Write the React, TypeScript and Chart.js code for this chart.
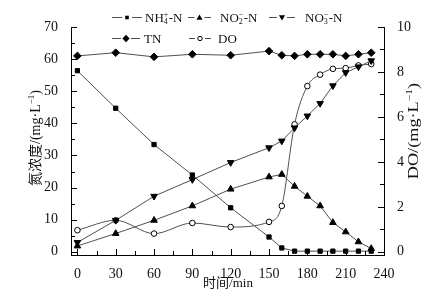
import React, { useEffect, useRef } from 'react';
import { Chart, registerables } from 'chart.js';

Chart.register(...registerables);

// ---- data ----
const TIME = [0, 30, 60, 90, 120, 150, 160, 170, 180, 190, 200, 210, 220, 230];
const NH4 = [56.4, 44.7, 33.4, 23.9, 13.7, 4.6, 1.2, 0.2, 0.2, 0.2, 0.2, 0.2, 0.2, 0.2];
const NO2 = [1.8, 5.7, 9.8, 14.3, 19.5, 23.3, 24.1, 20.4, 17.3, 14.3, 9.1, 6.2, 3.1, 1.0];
const NO3 = [2.9, 9.8, 17.3, 22.5, 27.8, 32.4, 34.5, 38.6, 42.3, 46.2, 51.7, 55.8, 57.6, 59.5];
const TN = [61.0, 62.0, 60.7, 61.5, 61.2, 62.5, 61.2, 61.0, 61.5, 61.5, 61.5, 61.0, 61.5, 62.0];
const DO = [0.96, 1.4, 0.81, 1.28, 1.1, 1.33, 2.04, 5.67, 7.37, 7.88, 8.14, 8.17, 8.29, 8.35];

const X_TICKS = [0, 30, 60, 90, 120, 150, 180, 210, 240];
const N_TICKS = [0, 10, 20, 30, 40, 50, 60, 70];
const DO_TICKS = [0, 2, 4, 6, 8, 10];

const SERIF = '"Liberation Serif", "Times New Roman", serif';
const MIXED = '"Liberation Serif", "Noto Sans CJK SC", serif';
const LINE = '#505050';
const INK = '#111111';

type Kind = 'square' | 'up' | 'down' | 'diamond' | 'circle';

function drawMarker(ctx: CanvasRenderingContext2D, kind: Kind, x: number, y: number, s: number) {
  ctx.save();
  ctx.fillStyle = '#000';
  ctx.strokeStyle = '#000';
  ctx.lineWidth = 1;
  ctx.beginPath();
  if (kind === 'square') {
    ctx.rect(x - s, y - s, 2 * s, 2 * s);
    ctx.fill();
  } else if (kind === 'up') {
    ctx.moveTo(x, y - s * 1.1);
    ctx.lineTo(x + s * 1.1, y + s * 0.8);
    ctx.lineTo(x - s * 1.1, y + s * 0.8);
    ctx.closePath();
    ctx.fill();
  } else if (kind === 'down') {
    ctx.moveTo(x, y + s * 1.1);
    ctx.lineTo(x + s * 1.1, y - s * 0.8);
    ctx.lineTo(x - s * 1.1, y - s * 0.8);
    ctx.closePath();
    ctx.fill();
  } else if (kind === 'diamond') {
    ctx.moveTo(x, y - s * 1.3);
    ctx.lineTo(x + s * 1.3, y);
    ctx.lineTo(x, y + s * 1.3);
    ctx.lineTo(x - s * 1.3, y);
    ctx.closePath();
    ctx.fill();
  } else {
    ctx.arc(x, y, s, 0, Math.PI * 2);
    ctx.fillStyle = '#fff';
    ctx.fill();
    ctx.stroke();
  }
  ctx.restore();
}

function drawRich(ctx: CanvasRenderingContext2D, x: number, y: number, parts: any[], size: number) {
  let cx = x;
  ctx.textBaseline = 'alphabetic';
  ctx.textAlign = 'left';
  for (const p of parts) {
    if (p.t !== undefined) {
      ctx.font = `${size}px ${MIXED}`;
      ctx.fillText(p.t, cx, y);
      cx += ctx.measureText(p.t).width;
    } else if (p.sup !== undefined && p.sub !== undefined) {
      ctx.font = `${Math.round(size * 0.62)}px ${SERIF}`;
      const w1 = ctx.measureText(p.sup).width;
      const w2 = ctx.measureText(p.sub).width;
      ctx.fillText(p.sup, cx, y - size * 0.42);
      ctx.fillText(p.sub, cx, y + size * 0.18);
      cx += Math.max(w1, w2) + 0.5;
    } else if (p.sup !== undefined) {
      ctx.font = `${Math.round(size * 0.62)}px ${SERIF}`;
      ctx.fillText(p.sup, cx, y - size * 0.4);
      cx += ctx.measureText(p.sup).width;
    }
  }
  return cx - x;
}

function measureRich(ctx: CanvasRenderingContext2D, parts: any[], size: number) {
  let w = 0;
  for (const p of parts) {
    if (p.t !== undefined) {
      ctx.font = `${size}px ${MIXED}`;
      w += ctx.measureText(p.t).width;
    } else if (p.sup !== undefined && p.sub !== undefined) {
      ctx.font = `${Math.round(size * 0.62)}px ${SERIF}`;
      w += Math.max(ctx.measureText(p.sup).width, ctx.measureText(p.sub).width) + 0.5;
    } else if (p.sup !== undefined) {
      ctx.font = `${Math.round(size * 0.62)}px ${SERIF}`;
      w += ctx.measureText(p.sup).width;
    }
  }
  return w;
}

const LEGEND = [
  { kind: 'square' as Kind, s: 1.8, x0: 112, x1: 142, tx: 145, y: 17, parts: [{ t: 'NH' }, { sup: '+', sub: '4' }, { t: '-N' }] },
  { kind: 'up' as Kind, s: 2.8, x0: 188, x1: 211, tx: 220, y: 17, parts: [{ t: 'NO' }, { sup: '−', sub: '2' }, { t: '-N' }] },
  { kind: 'down' as Kind, s: 2.8, x0: 269, x1: 295, tx: 305, y: 17, parts: [{ t: 'NO' }, { sup: '−', sub: '3' }, { t: '-N' }] },
  { kind: 'diamond' as Kind, s: 2.8, x0: 112, x1: 140, tx: 144, y: 38, parts: [{ t: 'TN' }] },
  { kind: 'circle' as Kind, s: 2.2, x0: 189, x1: 211, tx: 218, y: 38, parts: [{ t: 'DO' }] },
];

const customDraw = {
  id: 'customDraw',
  afterDraw(chart: any) {
    const ctx: CanvasRenderingContext2D = chart.ctx;
    const xs = chart.scales.x;
    const yl = chart.scales.y;
    const yr = chart.scales.y1;
    const L = Math.round(yl.right);
    const R = Math.round(yr.left);
    const B = Math.round(xs.top);
    ctx.save();
    ctx.fillStyle = '#000000';
    // inward minor/major ticks
    for (let v = 0; v <= 240; v += 15) {
      const px = Math.round(xs.getPixelForValue(v));
      const len = v % 30 === 0 ? 6 : 4;
      ctx.fillRect(px, B - len, 1, len);
    }
    for (let v = 0; v <= 70; v += 5) {
      const py = Math.round(yl.getPixelForValue(v));
      const len = v % 10 === 0 ? 6 : 4;
      ctx.fillRect(L, py, len, 1);
    }
    for (let v = 0; v <= 10; v += 1) {
      const py = Math.round(yr.getPixelForValue(v));
      const len = v % 2 === 0 ? 6 : 4;
      ctx.fillRect(R - len, py, len, 1);
    }

    ctx.fillStyle = INK;
    const leftParts = [{ t: '氮浓度/(mg·L' }, { sup: '−1' }, { t: ')' }];
    ctx.save();
    ctx.translate(35, 138);
    ctx.rotate(-Math.PI / 2);
    const lw = measureRich(ctx, leftParts, 14);
    drawRich(ctx, -lw / 2, 5, leftParts, 14);
    ctx.restore();

    const rightParts = [{ t: 'DO/(mg·L' }, { sup: '−1' }, { t: ')' }];
    ctx.save();
    ctx.translate(413, 131);
    ctx.rotate(-Math.PI / 2);
    ctx.scale(1.3, 1);
    const rw = measureRich(ctx, rightParts, 14);
    drawRich(ctx, -rw / 2, 5, rightParts, 14);
    ctx.restore();

    ctx.font = `13px ${MIXED}`;
    ctx.textAlign = 'center';
    ctx.textBaseline = 'middle';
    ctx.fillText('时间/min', 228, 284);

    for (const it of LEGEND) {
      const mx = (it.x0 + it.x1) / 2;
      ctx.fillStyle = LINE;
      ctx.fillRect(it.x0, it.y, mx - 5 - it.x0, 1);
      ctx.fillRect(mx + 5, it.y, it.x1 - mx - 5, 1);
      drawMarker(ctx, it.kind, mx, it.y + 0.5, it.s);
      ctx.fillStyle = INK;
      drawRich(ctx, it.tx, it.y + 5, it.parts, 13);
    }
    ctx.restore();
  },
};

function pts(ys: number[]) {
  return TIME.map((t, i) => ({ x: t, y: ys[i] }));
}

export default function App() {
  const ref = useRef<HTMLCanvasElement>(null);
  useEffect(() => {
    if (!ref.current) return;
    const common = {
      borderColor: LINE,
      borderWidth: 1,
      pointBackgroundColor: '#000',
      pointBorderColor: '#000',
      pointBorderWidth: 1,
      fill: false,
    };
    const chart = new Chart(ref.current, {
      type: 'line',
      data: {
        datasets: [
          { ...common, label: 'NH4+-N', data: pts(NH4), yAxisID: 'y', pointStyle: 'rect', pointRadius: 3 },
          { ...common, label: 'NO2--N', data: pts(NO2), yAxisID: 'y', pointStyle: 'triangle', pointRadius: 3.8 },
          { ...common, label: 'NO3--N', data: pts(NO3), yAxisID: 'y', pointStyle: 'triangle', pointRotation: 180, pointRadius: 3.8 },
          { ...common, label: 'TN', data: pts(TN), yAxisID: 'y', pointStyle: 'rectRot', pointRadius: 3.8 },
          {
            ...common,
            label: 'DO',
            data: pts(DO),
            yAxisID: 'y1',
            pointStyle: 'circle',
            pointRadius: 2.8,
            pointBackgroundColor: '#fff',
            cubicInterpolationMode: 'monotone',
          },
        ],
      },
      options: {
        animation: false,
        responsive: false,
        maintainAspectRatio: false,
        layout: { padding: { top: 27, left: 0, right: 0, bottom: 0 } },
        plugins: { legend: { display: false }, tooltip: { enabled: false }, title: { display: false } },
        scales: {
          x: {
            type: 'linear',
            min: -5,
            max: 240,
            afterBuildTicks: (s: any) => {
              s.ticks = X_TICKS.map((v) => ({ value: v }));
            },
            afterFit: (s: any) => {
              s.height = 44;
            },
            grid: { display: false },
            border: { display: true, color: '#000', width: 1 },
            ticks: { color: INK, font: { family: SERIF, size: 14 }, padding: 3, maxRotation: 0, autoSkip: false },
          },
          y: {
            type: 'linear',
            position: 'left',
            min: -1,
            max: 70,
            afterBuildTicks: (s: any) => {
              s.ticks = N_TICKS.map((v) => ({ value: v }));
            },
            afterFit: (s: any) => {
              s.width = 71;
            },
            grid: { display: false },
            border: { display: true, color: '#000', width: 1 },
            ticks: { color: INK, font: { family: SERIF, size: 14 }, padding: 5 },
          },
          y1: {
            type: 'linear',
            position: 'right',
            min: -1 / 7,
            max: 10,
            afterBuildTicks: (s: any) => {
              s.ticks = DO_TICKS.map((v) => ({ value: v }));
            },
            afterFit: (s: any) => {
              s.width = 51;
            },
            grid: { display: false },
            border: { display: true, color: '#000', width: 1 },
            ticks: { color: INK, font: { family: SERIF, size: 14 }, padding: 5 },
          },
        },
      },
      plugins: [customDraw],
    } as any);
    return () => chart.destroy();
  }, []);
  return (
    <div style={{ position: 'fixed', left: 0, top: 0, width: 435, height: 299, background: '#fff' }}>
      <canvas ref={ref} width={435} height={299} style={{ display: 'block', width: 435, height: 299 }} />
    </div>
  );
}
